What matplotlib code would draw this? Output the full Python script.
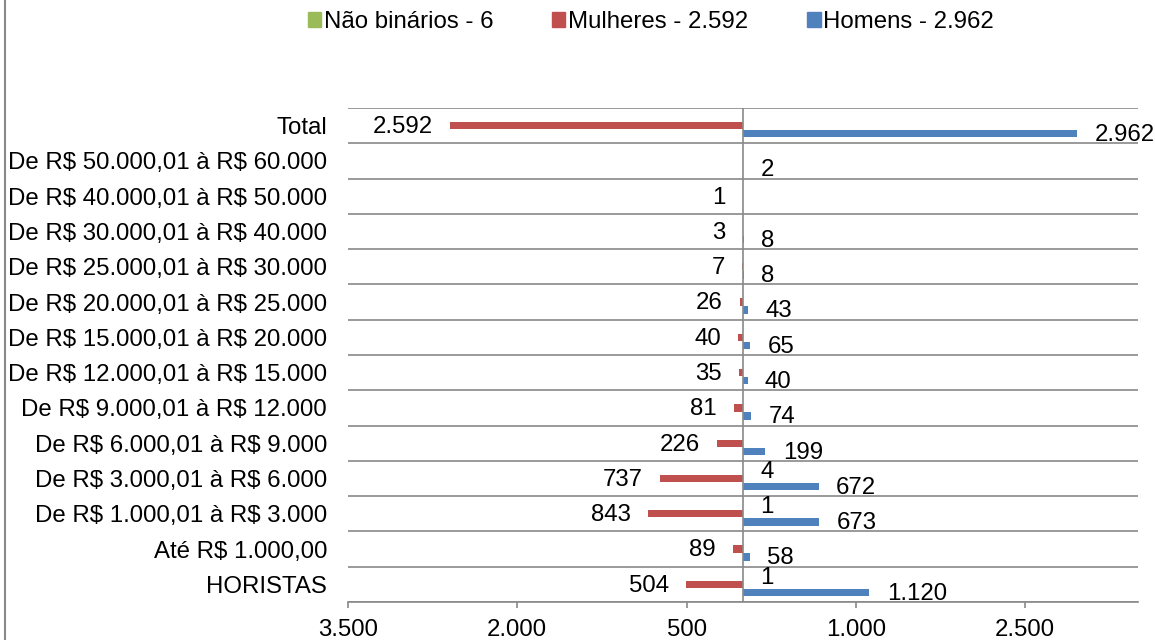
import matplotlib.pyplot as plt
import numpy as np
from matplotlib.patches import Patch
from matplotlib.lines import Line2D

plt.rcParams['font.family'] = ['Liberation Sans', 'DejaVu Sans']
plt.rcParams['text.parse_math'] = False  # "R$" nos rótulos

# Faixas salariais (de baixo para cima)
faixas = [
    'HORISTAS',
    'Até R$ 1.000,00',
    'De R$ 1.000,01 à R$ 3.000',
    'De R$ 3.000,01 à R$ 6.000',
    'De R$ 6.000,01 à R$ 9.000',
    'De R$ 9.000,01 à R$ 12.000',
    'De R$ 12.000,01 à R$ 15.000',
    'De R$ 15.000,01 à R$ 20.000',
    'De R$ 20.000,01 à R$ 25.000',
    'De R$ 25.000,01 à R$ 30.000',
    'De R$ 30.000,01 à R$ 40.000',
    'De R$ 40.000,01 à R$ 50.000',
    'De R$ 50.000,01 à R$ 60.000',
    'Total',
]
homens = [1120, 58, 673, 672, 199, 74, 40, 65, 43, 8, 8, None, 2, 2962]
mulheres = [504, 89, 843, 737, 226, 81, 35, 40, 26, 7, 3, 1, None, 2592]
nao_binarios = [1, None, 1, 4, None, None, None, None, None, None, None, None, None, None]

x_ticks = [-3500, -2000, -500, 1000, 2500]

cor_verde = '#9BBB59'
cor_vermelho = '#C0504D'
cor_azul = '#4F81BD'
cor_grade = '#898989'

fs = 17.3


def fmt(v):
    return f"{abs(int(v)):,}".replace(',', '.')


fig = plt.figure(figsize=(11.55, 6.4), dpi=100)
ax = fig.add_axes([348 / 1155, 1 - 602 / 640, (1138 - 348) / 1155, (602 - 108) / 640])

y = np.arange(len(faixas))
h = 0.21
off = 0.227

series = [
    (nao_binarios, 1, off, cor_verde),
    (mulheres, -1, 0.0, cor_vermelho),
    (homens, 1, -off, cor_azul),
]

for vals, sign, dy, cor in series:
    for yi, v in zip(y, vals):
        if v is None:
            continue
        ax.barh(yi + dy, sign * v, height=h, color=cor, zorder=3)
        ha = 'left' if sign > 0 else 'right'
        ax.annotate(fmt(v), xy=(sign * v, yi + dy), xytext=(sign * 12.5, -1),
                    textcoords='offset points', ha=ha, va='center',
                    fontsize=fs, color='black', zorder=4)

ax.set_xlim(-3500, 3500)
ax.set_ylim(-0.5, len(faixas) - 0.5)

ax.set_xticks(x_ticks)
ax.set_xticklabels([fmt(t) for t in x_ticks])
ax.set_yticks(y)
ax.set_yticklabels(faixas)
ax.set_yticks(np.arange(-0.5, len(faixas), 1.0), minor=True)

ax.tick_params(axis='y', which='both', length=0, pad=15, labelsize=fs)
ax.tick_params(axis='x', length=4.3, width=1.2, color=cor_grade, pad=8, labelsize=fs)
ax.grid(axis='y', which='minor', color=cor_grade, linewidth=1.2, zorder=1)
ax.axvline(0, color=cor_grade, linewidth=1.2, zorder=5)

for s in ['left', 'right', 'top']:
    ax.spines[s].set_visible(False)
ax.spines['bottom'].set_color(cor_grade)
ax.spines['bottom'].set_linewidth(1.2)

handles = [
    Patch(color=cor_verde, label='Não binários - 6'),
    Patch(color=cor_vermelho, label='Mulheres - 2.592'),
    Patch(color=cor_azul, label='Homens - 2.962'),
]
fig.legend(handles=handles, loc='center', bbox_to_anchor=(651 / 1155, 1 - 22 / 640),
           ncol=3, frameon=False, fontsize=fs, handlelength=0.55, handleheight=0.6,
           handletextpad=0.12, columnspacing=2.45)

# borda esquerda do gráfico
fig.add_artist(Line2D([5 / 1155, 5 / 1155], [0, 1], transform=fig.transFigure,
                      color=cor_grade, linewidth=1.5))

fig.savefig('out.png', dpi=100)
